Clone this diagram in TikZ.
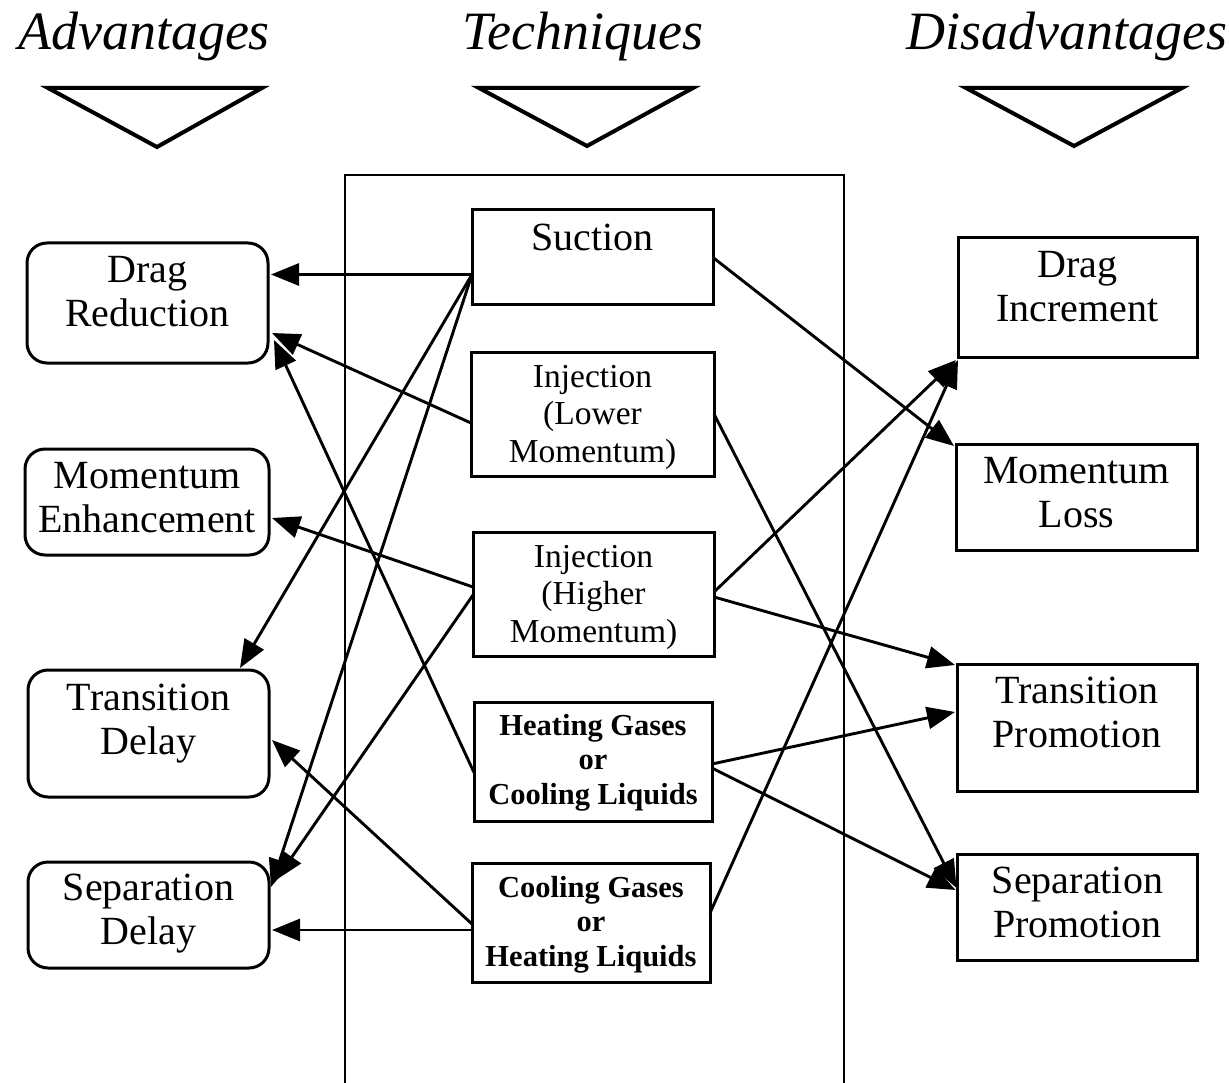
\documentclass[tikz,border=0pt]{standalone}
\usepackage{fontspec}
\setmainfont{Liberation Serif}
\usetikzlibrary{arrows.meta}
\newcommand{\mlines}[1]{\begin{tabular}[t]{@{}c@{}}#1\end{tabular}}
\begin{document}
\begin{tikzpicture}[x=1pt,y=-1pt,
  lbox/.style={draw,line width=3pt,rounded corners=20pt,inner sep=0pt,outer sep=0pt},
  rbox/.style={draw,line width=3pt,inner sep=0pt,outer sep=0pt},
  sidetxt/.style={anchor=base,inner sep=0pt,font=\fontsize{40}{44}\selectfont},
  injtxt/.style={anchor=base,inner sep=0pt,font=\fontsize{33.5}{37.5}\selectfont},
  heattxt/.style={anchor=base,inner sep=0pt,font=\fontsize{30.5}{34.5}\selectfont\bfseries},
  titletxt/.style={anchor=base,inner sep=0pt,font=\fontsize{54}{60}\selectfont\itshape},
  tri/.style={line width=4pt,line join=miter},
  frame/.style={line width=2.4pt},
  link/.style={line width=2.9pt,-{Triangle[length=28pt,width=22pt]}}
]
\useasboundingbox (0,0) rectangle (1229,1083);

% titles
\node[titletxt] (tA) at (144,50) {Advantages};
\node[titletxt] (tT) at (583,50) {Techniques};
\node[titletxt] (tD) at (1067,50) {Disadvantages};

% triangles
\draw[tri] (48,88) -- (262,88) -- (157,147) -- cycle;
\draw[tri] (479,88) -- (693,88) -- (587,146) -- cycle;
\draw[tri] (966,88) -- (1182,88) -- (1074,146) -- cycle;

% frame of techniques
\draw[frame] (345,1083) -- (345,175) -- (844,175) -- (844,1083);

% left boxes
\node[lbox,minimum width=241,minimum height=120] (dr) at (147.5,303) {};
\node[lbox,minimum width=244,minimum height=106] (me) at (147,502) {};
\node[lbox,minimum width=241,minimum height=127] (td) at (148.5,733.5) {};
\node[lbox,minimum width=241,minimum height=106] (sd) at (148.5,915) {};
\node[sidetxt] (tdr) at (147.5,283) {\mlines{Drag\\Reduction}};
\node[sidetxt] (tme) at (147,488) {\mlines{Momentum\\Enhancement}};
\node[sidetxt] (ttd) at (148.5,710) {\mlines{Transition\\Delay}};
\node[sidetxt] (tsd) at (148.5,900) {\mlines{Separation\\Delay}};

% middle boxes
\node[rbox,minimum width=241,minimum height=95] (su) at (592.5,257.5) {};
\node[rbox,minimum width=243,minimum height=124] (il) at (592.5,414) {};
\node[rbox,minimum width=241,minimum height=124] (ih) at (593.5,594) {};
\node[rbox,minimum width=238,minimum height=119] (hg) at (593,761.5) {};
\node[rbox,minimum width=238,minimum height=119] (cg) at (591,922.5) {};
\node[sidetxt] (tsu) at (592.5,251) {Suction};
\node[injtxt] (til) at (592.5,387) {\mlines{Injection\\(Lower\\Momentum)}};
\node[injtxt] (tih) at (593.5,567) {\mlines{Injection\\(Higher\\Momentum)}};
\node[heattxt] (thg) at (593,735) {\mlines{Heating Gases\\or\\Cooling Liquids}};
\node[heattxt] (tcg) at (591,897) {\mlines{Cooling Gases\\or\\Heating Liquids}};

% right boxes
\node[rbox,minimum width=239,minimum height=119] (di) at (1077.5,297.5) {};
\node[rbox,minimum width=241,minimum height=106] (ml) at (1076.5,497) {};
\node[rbox,minimum width=240,minimum height=127] (tp) at (1077,727.5) {};
\node[rbox,minimum width=240,minimum height=106] (sp) at (1077.5,907) {};
\node[sidetxt] (tdi) at (1077.5,278) {\mlines{Drag\\Increment}};
\node[sidetxt] (tml) at (1076.5,483) {\mlines{Momentum\\Loss}};
\node[sidetxt] (ttp) at (1077,703) {\mlines{Transition\\Promotion}};
\node[sidetxt] (tsp) at (1077.5,893) {\mlines{Separation\\Promotion}};

% connectors to advantages
\draw[link] ([yshift=-17pt]su.west) -- ([xshift=3pt,yshift=28.5pt]dr.east);
\draw[link] ([yshift=-17pt]su.west) -- ([xshift=-29pt,yshift=2pt]td.north east);
\draw[link] ([yshift=-17pt]su.west) -- ([xshift=2pt,yshift=28pt]sd.east);
\draw[link] ([yshift=-9pt]il.west) -- ([xshift=4pt,yshift=-30pt]dr.east);
\draw[link] ([yshift=7pt]ih.west) -- ([xshift=3pt,yshift=-16pt]me.east);
\draw[link] ([yshift=-1pt]ih.west) -- ([xshift=7pt,yshift=35pt]sd.east);
\draw[link] ([yshift=-11pt]hg.west) -- ([xshift=6pt,yshift=-37pt]dr.east);
\draw[link] ([yshift=-7.5pt]cg.west) -- ([xshift=3pt,yshift=-15pt]sd.east);
\draw[link] ([yshift=-1.5pt]cg.west) -- ([xshift=3pt,yshift=-6.5pt]td.east);

% connectors to disadvantages
\draw[link] (su.east) -- ([xshift=-2pt,yshift=-2pt]ml.north west);
\draw[link] (il.east) -- ([xshift=-1pt,yshift=19pt]sp.west);
\draw[link] ([yshift=2pt]ih.east) -- ([xshift=-2pt,yshift=-3pt]di.south west);
\draw[link] ([yshift=-3pt]ih.east) -- ([xshift=-2pt,yshift=-1pt]tp.north west);
\draw[link] ([yshift=-2.5pt]hg.east) -- ([xshift=-2pt,yshift=15.5pt]tp.west);
\draw[link] ([yshift=-6.5pt]hg.east) -- ([xshift=-2pt,yshift=17pt]sp.west);
\draw[link] ([yshift=9.5pt]cg.east) -- ([yshift=-3pt]di.south west);
\end{tikzpicture}
\end{document}
